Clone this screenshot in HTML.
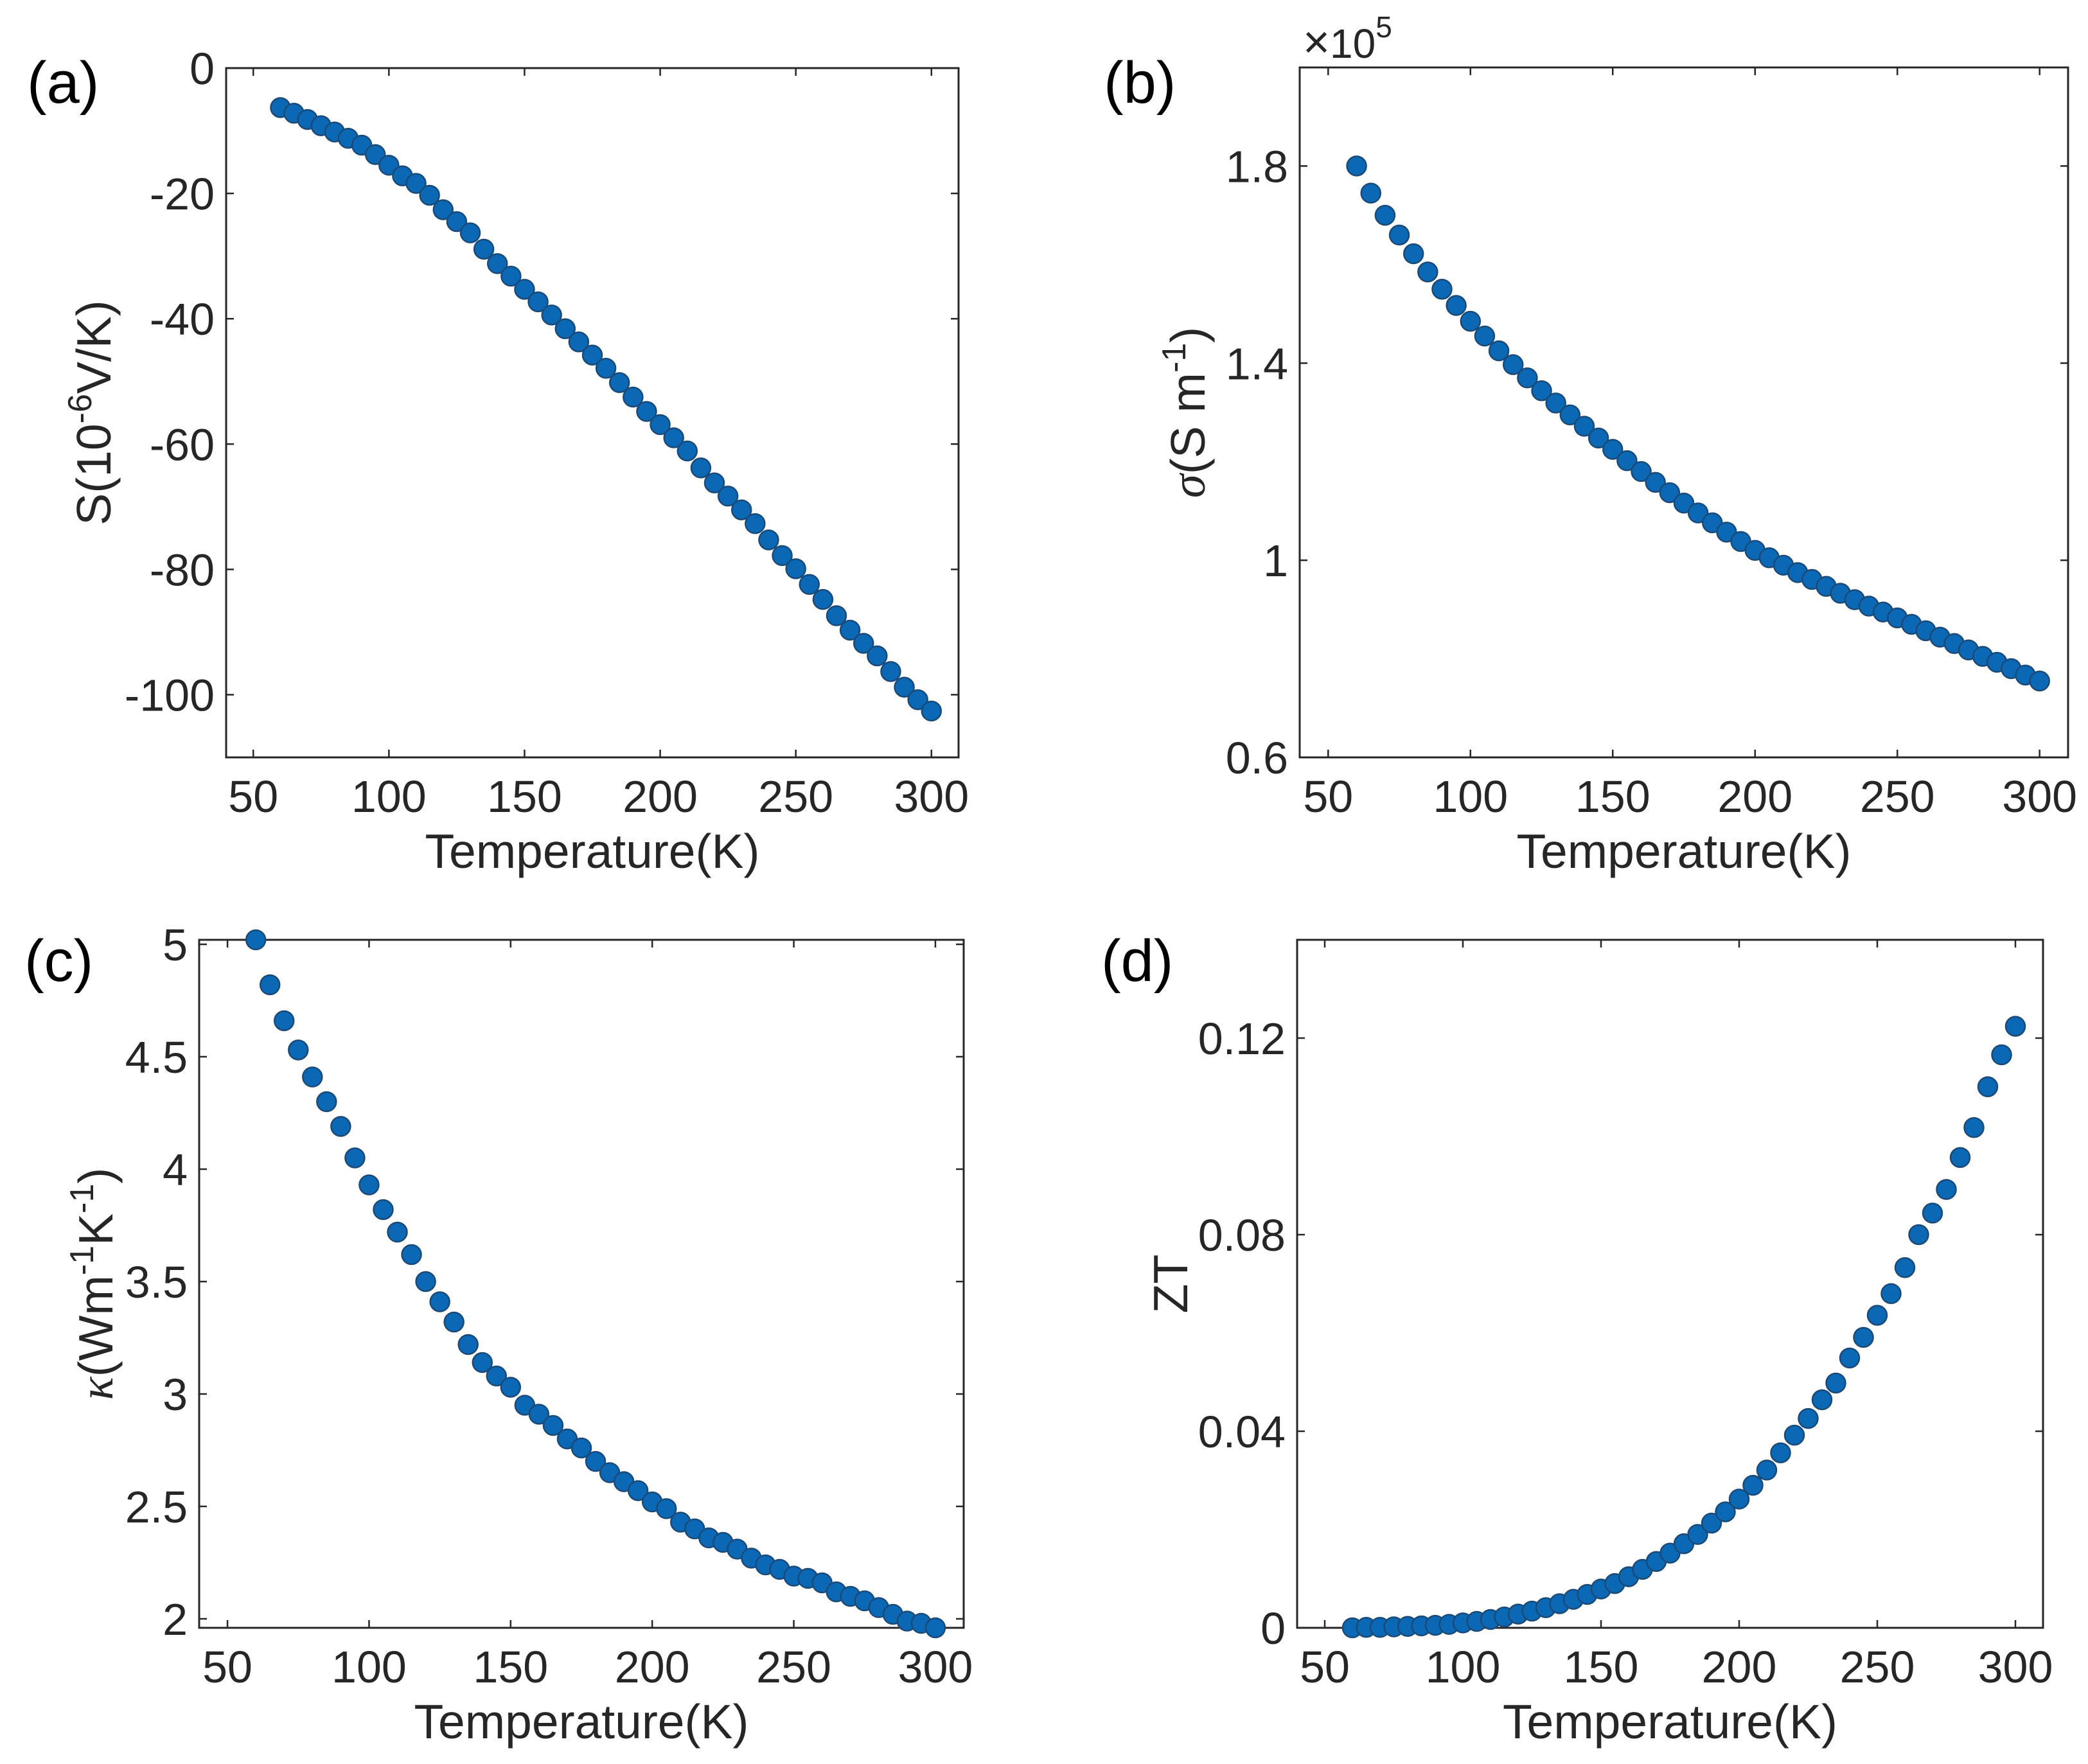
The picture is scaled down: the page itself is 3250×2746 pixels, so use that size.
<!DOCTYPE html>
<html><head><meta charset="utf-8"><style>
html,body{margin:0;padding:0;background:#fff;}
svg{display:block;font-family:"Liberation Sans",Arial,sans-serif;}
</style></head><body>
<svg id="fig" width="3250" height="2746" viewBox="0 0 3250 2746" xmlns="http://www.w3.org/2000/svg">
<rect width="3250" height="2746" fill="#fff"/>
</svg>
<script>
const temps = [60,65,70,75,80,85,90,95,100,105,110,115,120,125,130,135,140,145,150,155,160,165,170,175,180,185,190,195,200,205,210,215,220,225,230,235,240,245,250,255,260,265,270,275,280,285,290,295,300];
const seebeck = [-6.3,-7.2,-8.2,-9.2,-10.2,-11.2,-12.3,-13.8,-15.5,-17.2,-18.4,-20.3,-22.6,-24.5,-26.3,-28.9,-31.2,-33.2,-35.3,-37.3,-39.4,-41.6,-43.7,-45.8,-47.9,-50.2,-52.5,-54.8,-56.9,-59.0,-61.1,-63.8,-66.2,-68.3,-70.5,-72.7,-75.3,-77.8,-79.9,-82.4,-84.8,-87.4,-89.7,-91.8,-93.8,-96.3,-98.8,-100.8,-102.6];
const sigma = [1.800,1.745,1.700,1.660,1.622,1.585,1.550,1.517,1.485,1.455,1.425,1.397,1.370,1.344,1.319,1.295,1.272,1.248,1.225,1.202,1.180,1.158,1.137,1.116,1.096,1.076,1.057,1.038,1.020,1.005,0.990,0.975,0.961,0.947,0.933,0.920,0.907,0.895,0.883,0.870,0.857,0.844,0.831,0.818,0.805,0.793,0.780,0.767,0.755];
const kappa = [5.02,4.82,4.66,4.53,4.41,4.30,4.19,4.05,3.93,3.82,3.72,3.62,3.50,3.41,3.32,3.22,3.14,3.08,3.03,2.95,2.91,2.86,2.80,2.76,2.70,2.65,2.61,2.57,2.52,2.49,2.43,2.40,2.36,2.34,2.31,2.27,2.24,2.22,2.19,2.18,2.16,2.12,2.10,2.08,2.05,2.02,1.99,1.98,1.96];
const zt = [0,0.0001,0.0001,0.0002,0.0003,0.0004,0.0005,0.0007,0.001,0.0013,0.0017,0.0022,0.0028,0.0034,0.0041,0.0049,0.0058,0.0068,0.0079,0.0090,0.0104,0.0119,0.0135,0.0152,0.0171,0.0190,0.0213,0.0236,0.0262,0.0290,0.0321,0.0356,0.0392,0.0426,0.0464,0.0498,0.0549,0.0591,0.0636,0.0680,0.0733,0.0800,0.0844,0.0892,0.0957,0.1018,0.1101,0.1166,0.1224];
const xTicks = [50,100,150,200,250,300];
const yTicksA = [0,-20,-40,-60,-80,-100];
const yTicksB = [0.6,1.0,1.4,1.8];
const yTickLabelsB = ["0.6","1","1.4","1.8"];
const yTicksC = [2,2.5,3,3.5,4,4.5,5];
const yTickLabelsC = ["2","2.5","3","3.5","4","4.5","5"];
const yTicksD = [0,0.04,0.08,0.12];
const yTickLabelsD = ["0","0.04","0.08","0.12"];

const NS = "http://www.w3.org/2000/svg";
const svg = document.getElementById('fig');
function mk(tag, attrs, parent){ const e=document.createElementNS(NS,tag); for(const k in attrs) e.setAttribute(k,attrs[k]); (parent||svg).appendChild(e); return e; }

function panel(cfg){
  const g = mk('g',{});
  
  
  const {x0,x1,y0,y1,xmin,xmax,ymin,ymax} = cfg;
  const sx = v => x0 + (v-xmin)/(xmax-xmin)*(x1-x0);
  const sy = v => y1 - (v-ymin)/(ymax-ymin)*(y1-y0);
  const col = "#262626";
  xTicks.forEach(t=>{
    const X=sx(t);
    mk('line',{x1:X,y1:y1,x2:X,y2:y1-12,stroke:col,'stroke-width':2.5},g);
    mk('line',{x1:X,y1:y0,x2:X,y2:y0+12,stroke:col,'stroke-width':2.5},g);
    const tx = mk('text',{x:X,y:y1+85,'font-size':70,'text-anchor':'middle',fill:col},g);
    tx.textContent = t;
    
    
  });
  cfg.yTicks.forEach((t,i)=>{
    const Y=sy(t);
    mk('line',{x1:x0,y1:Y,x2:x0+12,y2:Y,stroke:col,'stroke-width':2.5},g);
    mk('line',{x1:x1,y1:Y,x2:x1-12,y2:Y,stroke:col,'stroke-width':2.5},g);
    const ty = mk('text',{x:x0-18,y:Y+25,'font-size':70,'text-anchor':'end',fill:col},g);
    ty.textContent = cfg.yLabels ? cfg.yLabels[i] : t;
    
    
  });
  const box = mk('rect',{x:x0,y:y0,width:x1-x0,height:y1-y0,fill:'none',stroke:col,'stroke-width':3},g);
  
  
  temps.forEach((t,i)=>{
    const c = mk('circle',{cx:sx(t),cy:sy(cfg.data[i]),r:15,fill:'#0b68b4',stroke:'#1b4a78','stroke-width':2.5},g);
    
    
  });
  const xl = mk('text',{x:(x0+x1)/2,y:y1+172,'font-size':75,'text-anchor':'middle',fill:col},g);
  xl.textContent = 'Temperature(K)';
  
  
  const yl = mk('text',{x:0,y:0,'font-size':75,'text-anchor':'middle',fill:col,transform:`translate(${cfg.ylx},${(y0+y1)/2}) rotate(-90)`},g);
  yl.innerHTML = cfg.ylabel;
  
  
  const pl = mk('text',{x:cfg.lx,y:cfg.ly,'font-size':92,fill:'#000'},g);
  pl.textContent = cfg.letter;
  
  
  return g;
}

panel({name:'panel-a-seebeck',x0:352,x1:1492,y0:106,y1:1179,xmin:40,xmax:310,ymin:-110,ymax:0,data:seebeck,yTicks:yTicksA,
  ylx:172,ylabel:'S(10<tspan dy="-30" font-size="52">-6</tspan><tspan dy="30">V/K)</tspan>',letter:'(a)',lx:42,ly:160});
panel({name:'panel-b-conductivity',x0:2023,x1:3219,y0:105,y1:1179,xmin:40,xmax:310,ymin:0.6,ymax:2.0,data:sigma,yTicks:yTicksB,yLabels:yTickLabelsB,
  ylx:1875,ylabel:'<tspan font-style="italic" font-family="Liberation Serif">σ</tspan>(S m<tspan dy="-30" font-size="52">-1</tspan><tspan dy="30">)</tspan>',letter:'(b)',lx:1718,ly:160});
panel({name:'panel-c-thermal-conductivity',x0:310,x1:1500,y0:1463,y1:2534,xmin:40,xmax:310,ymin:1.96,ymax:5.02,data:kappa,yTicks:yTicksC,yLabels:yTickLabelsC,
  ylx:175,ylabel:'<tspan font-style="italic" font-family="Liberation Serif">κ</tspan>(Wm<tspan dy="-30" font-size="52">-1</tspan><tspan dy="30">K</tspan><tspan dy="-30" font-size="52">-1</tspan><tspan dy="30">)</tspan>',letter:'(c)',lx:38,ly:1527});
panel({name:'panel-d-zt',x0:2019,x1:3180,y0:1463,y1:2534,xmin:40,xmax:310,ymin:0,ymax:0.14,data:zt,yTicks:yTicksD,yLabels:yTickLabelsD,
  ylx:1848,ylabel:'ZT',letter:'(d)',lx:1714,ly:1527});

const ex = mk('text',{x:2028,y:90,'font-size':64,fill:'#262626'});
ex.innerHTML = '<tspan font-size="72">×</tspan>10<tspan dy="-32" font-size="46">5</tspan>';


</script>
</body></html>
